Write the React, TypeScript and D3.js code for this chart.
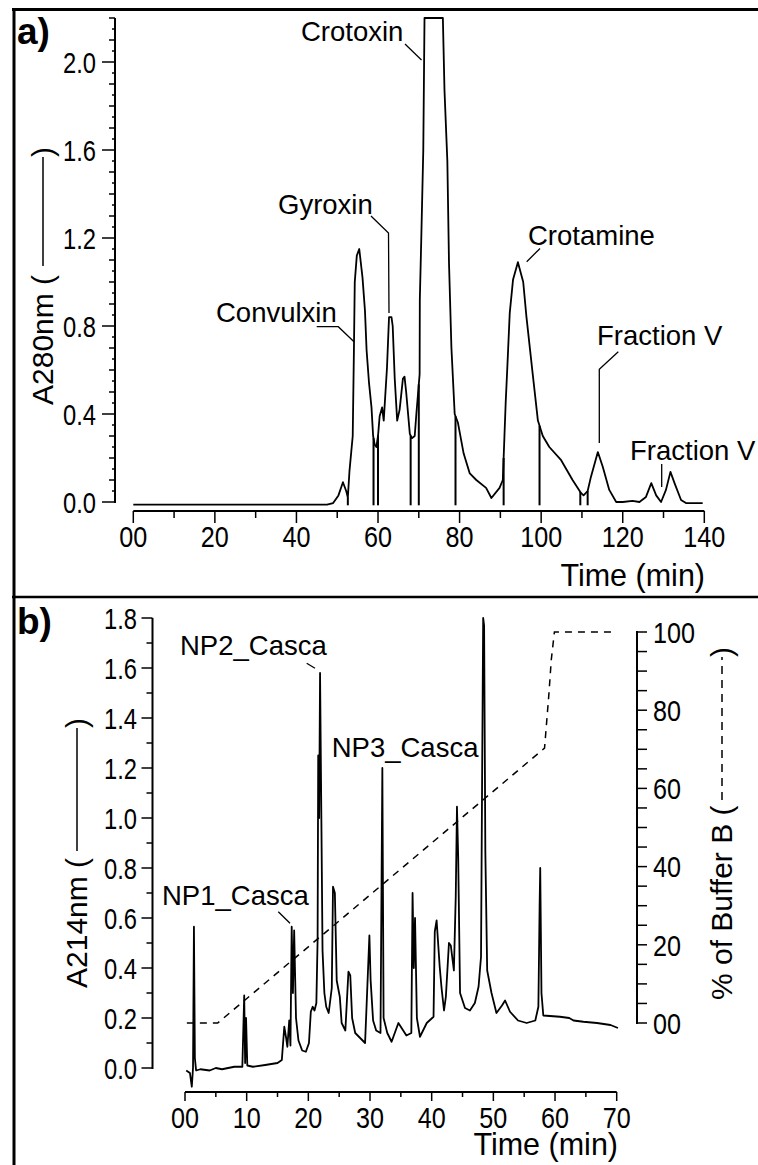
import React from 'react';
import * as d3 from 'd3';

// ---------- Panel a: gel filtration (A280nm) ----------
const timeA = [0, 47.5, 49, 50.3, 51.4, 52.2, 52.6, 53, 53.8, 54.1, 54.3, 54.8, 55.4, 56.2, 56.8, 57.2, 57.8, 58.4, 58.8, 59.2, 59.6, 60.0, 60.4, 61.0, 61.4, 62.2, 62.7, 63.3, 63.6, 64.1, 64.7, 65.3, 66.1, 66.5, 66.9, 67.8, 68.3, 69.0, 69.4, 70.2, 70.25, 70.6, 71.1, 71.4, 75.9, 76.3, 77.0, 77.4, 78.0, 78.8, 79.6, 81.0, 82.5, 84.1, 86.5, 87.8, 89.8, 90.6, 91.0, 91.3, 91.7, 92.3, 93.1, 94.3, 95.6, 96.4, 98.0, 99.2, 100.4, 102.0, 104.9, 107.7, 109.8, 110.4, 111.4, 112.2, 113.9, 115.1, 116.7, 118.4, 120, 122.4, 124.1, 125.7, 127, 128.2, 129.4, 130.6, 131.7, 132.7, 134.3, 135.5, 139.6];
const absA = [-0.012, -0.012, -0.005, 0.03, 0.09, 0.05, 0.02, 0.14, 0.3, 0.7, 1.0, 1.12, 1.15, 1.02, 0.87, 0.69, 0.54, 0.43, 0.3, 0.26, 0.25, 0.3, 0.39, 0.43, 0.37, 0.61, 0.84, 0.84, 0.8, 0.56, 0.37, 0.42, 0.56, 0.57, 0.5, 0.31, 0.29, 0.3, 0.4, 0.58, 0.92, 1.19, 1.6, 2.2, 2.2, 1.87, 1.55, 1.09, 0.7, 0.4, 0.36, 0.22, 0.13, 0.1, 0.064, 0.018, 0.064, 0.1, 0.3, 0.45, 0.61, 0.86, 1.01, 1.09, 1.0, 0.84, 0.57, 0.37, 0.3, 0.25, 0.19, 0.1, 0.04, 0.03, 0.05, 0.114, 0.227, 0.16, 0.055, 0.0, 0.0, 0.005, 0.0, 0.023, 0.086, 0.03, 0.0, 0.055, 0.137, 0.086, 0.009, -0.005, -0.005];
const fractionCutsA = [52.6, 58.9, 60.0, 68.0, 70.0, 79.0, 90.8, 99.6, 109.6, 111.4];
const dropBaseA = -0.015;
const xTicksA = [0, 20, 40, 60, 80, 100, 120, 140];
const xTickLabelsA = ['00', '20', '40', '60', '80', '100', '120', '140'];
const yTicksA = [0, 0.4, 0.8, 1.2, 1.6, 2.0];
const yTickLabelsA = ['0.0', '0.4', '0.8', '1.2', '1.6', '2.0'];

// ---------- Panel b: RP-HPLC (A214nm) ----------
const timeB = [0.2, 0.8, 1.1, 1.3, 1.45, 1.6, 1.8, 2.5, 4, 5, 6, 7, 8, 9.3, 9.6, 9.75, 9.9, 10.1, 11, 13, 15, 15.7, 16.1, 16.4, 16.6, 16.9, 17.1, 17.3, 17.5, 17.7, 18.0, 18.4, 19.0, 19.6, 20.1, 20.4, 20.7, 21.0, 21.3, 21.5, 21.6, 21.75, 21.9, 22.1, 22.3, 22.6, 22.9, 23.3, 23.8, 24.0, 24.3, 24.6, 25.1, 25.4, 26.0, 26.5, 26.8, 27.1, 27.6, 28.6, 29.2, 29.9, 30.1, 30.5, 31.0, 31.7, 32.0, 32.2, 32.8, 33.5, 34.6, 35.9, 36.7, 36.9, 37.1, 37.3, 37.6, 38.1, 39.2, 40.3, 40.5, 40.8, 41.3, 41.6, 42.0, 42.3, 42.8, 43.1, 43.6, 43.9, 44.1, 44.3, 44.6, 45.4, 46.2, 47.0, 47.6, 48.0, 48.2, 48.35, 48.5, 48.7, 49.0, 49.7, 50.5, 51.4, 51.9, 52.7, 54.0, 55.4, 56.8, 57.3, 57.5, 57.6, 57.8, 58.1, 60.8, 62.3, 63, 64.6, 66.8, 69.0, 70.2];
const absB = [-0.01, -0.02, -0.075, 0.0, 0.565, 0.04, -0.01, -0.005, -0.01, 0.0, -0.005, 0.0, 0.005, 0.005, 0.29, 0.02, 0.2, 0.01, 0.005, 0.012, 0.02, 0.032, 0.165, 0.12, 0.085, 0.19, 0.09, 0.565, 0.3, 0.55, 0.2, 0.11, 0.07, 0.065, 0.1, 0.225, 0.245, 0.23, 0.26, 0.51, 1.25, 1.0, 1.58, 1.03, 0.47, 0.3, 0.245, 0.22, 0.32, 0.725, 0.7, 0.35, 0.285, 0.18, 0.15, 0.385, 0.37, 0.2, 0.14, 0.115, 0.1, 0.53, 0.35, 0.19, 0.15, 0.14, 1.2, 0.2, 0.14, 0.105, 0.18, 0.13, 0.14, 0.7, 0.4, 0.6, 0.2, 0.125, 0.18, 0.205, 0.545, 0.59, 0.405, 0.32, 0.23, 0.285, 0.5, 0.49, 0.39, 0.685, 1.045, 0.84, 0.3, 0.24, 0.23, 0.26, 0.325, 0.445, 1.25, 1.8, 1.77, 0.865, 0.39, 0.3, 0.22, 0.25, 0.27, 0.225, 0.19, 0.18, 0.19, 0.245, 0.65, 0.8, 0.3, 0.21, 0.205, 0.2, 0.19, 0.185, 0.18, 0.172, 0.16];
const gradTime = [0.3, 5.3, 58.3, 59.0, 59.4, 59.9, 70];
const gradPct = [0, 0, 70.3, 84, 93, 100, 100];
const xTicksB = [0, 10, 20, 30, 40, 50, 60, 70];
const xTickLabelsB = ['00', '10', '20', '30', '40', '50', '60', '70'];
const yTicksB = [0, 0.2, 0.4, 0.6, 0.8, 1.0, 1.2, 1.4, 1.6, 1.8];
const yTickLabelsB = ['0.0', '0.2', '0.4', '0.6', '0.8', '1.0', '1.2', '1.4', '1.6', '1.8'];
const yTicksR = [0, 20, 40, 60, 80, 100];
const yTickLabelsR = ['00', '20', '40', '60', '80', '100'];

const FONT = 'Liberation Sans, Arial, Helvetica, sans-serif';

function labelWidth(s: string) {
  let w = 0;
  for (const c of s) w += c === '.' ? 5 : 14;
  return w;
}

function TickLabel({ x, y, s, anchor }: { x: number; y: number; s: string; anchor: string }) {
  return (
    <text x={x} y={y} fontSize={30} fontFamily={FONT} textAnchor={anchor}
      textLength={labelWidth(s)} lengthAdjust="spacingAndGlyphs" fill="#000">{s}</text>
  );
}

export default function App() {
  const xA = d3.scaleLinear().domain([0, 140]).range([133.3, 704.3]);
  const yA = d3.scaleLinear().domain([0, 2]).range([502, 62]);
  const xB = d3.scaleLinear().domain([0, 70]).range([185, 616.7]);
  const yB = d3.scaleLinear().domain([0, 1.8]).range([1068, 618]);
  const yR = d3.scaleLinear().domain([0, 100]).range([1023, 632]);

  const ptsA = timeA.map((t, i) => [t, absA[i]] as [number, number]);
  const ptsB = timeB.map((t, i) => [t, absB[i]] as [number, number]);
  const ptsG = gradTime.map((t, i) => [t, gradPct[i]] as [number, number]);

  const lineA = d3.line<[number, number]>().x(d => xA(d[0])).y(d => yA(d[1]));
  const lineB = d3.line<[number, number]>().x(d => xB(d[0])).y(d => yB(d[1]));
  const lineG = d3.line<[number, number]>().x(d => xB(d[0])).y(d => yR(d[1]));

  const interpA = (t: number) => {
    const i = d3.bisector((d: number) => d).left(timeA, t);
    if (i <= 0) return absA[0];
    if (i >= timeA.length) return absA[absA.length - 1];
    const t0 = timeA[i - 1], t1 = timeA[i];
    const f = (t - t0) / (t1 - t0);
    return absA[i - 1] + f * (absA[i] - absA[i - 1]);
  };

  const yMinorA = d3.range(0, 45).map(i => i * 0.05);
  const xMinorA = d3.range(0, 15).map(i => i * 10);
  const yMinorB = d3.range(0, 19).map(i => i * 0.1);
  const xMinorB = d3.range(0, 15).map(i => i * 5);
  const yMinorR = d3.range(0, 21).map(i => i * 5);

  const ann = 27.5;
  const leader = { stroke: '#000', strokeWidth: 1.3, fill: 'none' };

  return (
    <svg width={758} height={1165} style={{ position: 'absolute', left: 0, top: 0, background: '#fff' }}
      xmlns="http://www.w3.org/2000/svg">
      <rect x={0} y={0} width={758} height={1165} fill="#fff" />
      {/* frame */}
      <line x1={12} y1={9.5} x2={758} y2={9.5} stroke="#000" strokeWidth={3} />
      <line x1={14} y1={8} x2={14} y2={1165} stroke="#000" strokeWidth={3} />
      <line x1={12} y1={597} x2={758} y2={597} stroke="#000" strokeWidth={2.5} />

      {/* ===== Panel a ===== */}
      <text x={17} y={44} fontSize={37} fontWeight="bold" fontFamily={FONT}>a)</text>
      <line x1={115} y1={yA(0) + 1} x2={115} y2={yA(2.2)} stroke="#000" strokeWidth={2} />
      {yMinorA.map((v, i) => {
        const len = i % 8 === 0 ? 13 : i % 2 === 0 ? 6 : 3;
        return <line key={'yma' + i} x1={115 - len} x2={115} y1={yA(v)} y2={yA(v)} stroke="#000" strokeWidth={1.5} />;
      })}
      {yTicksA.map((v, i) => <TickLabel key={'yla' + i} x={96} y={yA(v) + 10.7} s={yTickLabelsA[i]} anchor="end" />)}
      <line x1={xA(0)} y1={511} x2={xA(140)} y2={511} stroke="#000" strokeWidth={2} />
      {xMinorA.map((v, i) => {
        const len = i % 2 === 0 ? 12 : 7;
        return <line key={'xma' + i} x1={xA(v)} x2={xA(v)} y1={511} y2={511 + len} stroke="#000" strokeWidth={1.5} />;
      })}
      {xTicksA.map((v, i) => <TickLabel key={'xla' + i} x={xA(v)} y={547} s={xTickLabelsA[i]} anchor="middle" />)}
      <text x={705} y={586} fontSize={30.5} fontFamily={FONT} textAnchor="end">Time (min)</text>
      <text transform="translate(53,405) rotate(-90)" fontSize={30} fontFamily={FONT}>A280nm (</text>
      <line x1={43} y1={266} x2={43} y2={157} stroke="#000" strokeWidth={1.5} />
      <text transform="translate(53,157) rotate(-90)" fontSize={30} fontFamily={FONT}>)</text>
      {fractionCutsA.map((t, i) => (
        <line key={'cut' + i} x1={xA(t)} x2={xA(t)} y1={yA(dropBaseA)} y2={yA(interpA(t))} stroke="#000" strokeWidth={2} />
      ))}
      <path d={lineA(ptsA) || ''} fill="none" stroke="#000" strokeWidth={1.8} strokeLinejoin="round" />
      <text x={301} y={41} fontSize={ann} fontFamily={FONT}>Crotoxin</text>
      <polyline points="405,44 421.5,60" {...leader} />
      <text x={278} y={214} fontSize={ann} fontFamily={FONT}>Gyroxin</text>
      <polyline points="371,216 388.5,233 389,313" {...leader} />
      <text x={216} y={322} fontSize={ann} fontFamily={FONT}>Convulxin</text>
      <polyline points="316.7,326.7 338.3,326.7 354,341.7" {...leader} />
      <text x={528} y={245} fontSize={ann} fontFamily={FONT}>Crotamine</text>
      <polyline points="540,248.5 526.7,261.7" {...leader} />
      <text x={597} y={345} fontSize={ann} fontFamily={FONT}>Fraction V</text>
      <polyline points="618.3,351.7 599.3,369.3 599.3,443" {...leader} />
      <text x={630} y={460} fontSize={ann} fontFamily={FONT}>Fraction V</text>
      <polyline points="661.7,464 661.7,487" {...leader} />

      {/* ===== Panel b ===== */}
      <text x={17} y={634} fontSize={37} fontWeight="bold" fontFamily={FONT}>b)</text>
      <line x1={152.5} y1={yB(0) + 1} x2={152.5} y2={yB(1.8)} stroke="#000" strokeWidth={2} />
      {yMinorB.map((v, i) => {
        const len = i % 2 === 0 ? 11 : 6;
        return <line key={'ymb' + i} x1={152.5 - len} x2={152.5} y1={yB(v)} y2={yB(v)} stroke="#000" strokeWidth={1.5} />;
      })}
      {yTicksB.map((v, i) => <TickLabel key={'ylb' + i} x={137} y={yB(v) + 10.7} s={yTickLabelsB[i]} anchor="end" />)}
      <line x1={637} y1={yR(0) + 1} x2={637} y2={yR(100) - 1} stroke="#000" strokeWidth={2} />
      {yMinorR.map((v, i) => (
        <line key={'ymr' + i} x1={637} x2={647} y1={yR(v)} y2={yR(v)} stroke="#000" strokeWidth={1.5} />
      ))}
      {yTicksR.map((v, i) => <TickLabel key={'ylr' + i} x={653} y={yR(v) + 10.7} s={yTickLabelsR[i]} anchor="start" />)}
      <line x1={xB(0)} y1={1092} x2={xB(70)} y2={1092} stroke="#000" strokeWidth={2} />
      {xMinorB.map((v, i) => {
        const len = i % 2 === 0 ? 9 : 5;
        return <line key={'xmb' + i} x1={xB(v)} x2={xB(v)} y1={1092} y2={1092 + len} stroke="#000" strokeWidth={1.5} />;
      })}
      {xTicksB.map((v, i) => <TickLabel key={'xlb' + i} x={xB(v)} y={1128} s={xTickLabelsB[i]} anchor="middle" />)}
      <text x={618} y={1155} fontSize={30.5} fontFamily={FONT} textAnchor="end">Time (min)</text>
      <text transform="translate(87,988) rotate(-90)" fontSize={30} fontFamily={FONT}>A214nm (</text>
      <line x1={77} y1={851} x2={77} y2={728} stroke="#000" strokeWidth={1.5} />
      <text transform="translate(87,728) rotate(-90)" fontSize={30} fontFamily={FONT}>)</text>
      <text transform="translate(732,1000) rotate(-90)" fontSize={30} fontFamily={FONT}>% of Buffer B (</text>
      <line x1={722} y1={800} x2={722} y2={657} stroke="#000" strokeWidth={1.5} strokeDasharray="8,6" />
      <text transform="translate(732,657) rotate(-90)" fontSize={30} fontFamily={FONT}>)</text>
      <path d={lineG(ptsG) || ''} fill="none" stroke="#000" strokeWidth={1.5} strokeDasharray="7,6" />
      <path d={lineB(ptsB) || ''} fill="none" stroke="#000" strokeWidth={1.8} strokeLinejoin="round" />
      <text x={180} y={655} fontSize={ann} fontFamily={FONT}>NP2_Casca</text>
      <polyline points="306.7,663.3 315,668.3" {...leader} />
      <text x={331.7} y={757} fontSize={ann} fontFamily={FONT}>NP3_Casca</text>
      <text x={162} y={905} fontSize={ann} fontFamily={FONT}>NP1_Casca</text>
      <polyline points="278.3,911.7 290,923.3" {...leader} />
    </svg>
  );
}
